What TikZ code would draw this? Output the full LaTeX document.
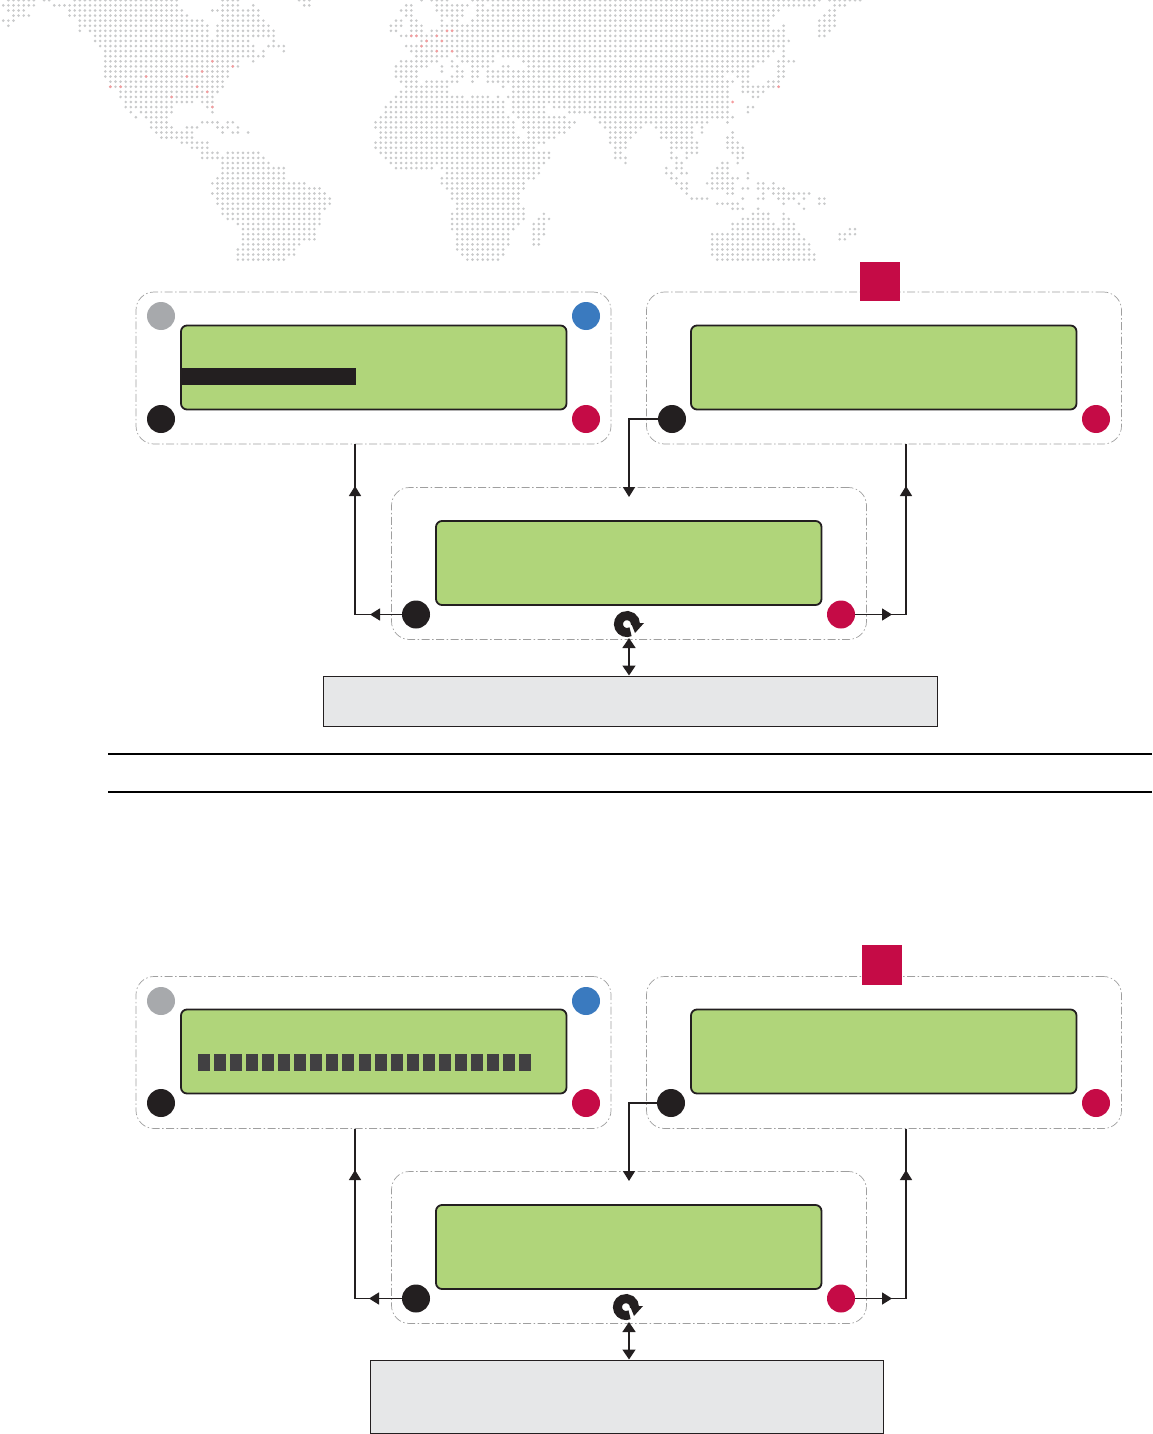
\documentclass[tikz,border=0pt]{standalone}
\usetikzlibrary{arrows.meta}
\definecolor{ink}{HTML}{231F20}
\definecolor{lcdgreen}{HTML}{B0D57A}
\definecolor{dotgrey}{HTML}{C9CACB}
\definecolor{dotred}{HTML}{F59C9E}
\definecolor{crimson}{HTML}{C50B46}
\definecolor{bluedot}{HTML}{3A7ABF}
\definecolor{greydot}{HTML}{A7A9AC}
\definecolor{panel}{HTML}{E6E7E8}
\definecolor{cell}{HTML}{414042}
\tikzset{
  groupbox/.style={draw=gray!75,line width=0.7pt,dash pattern=on 8pt off 2.5pt on 1.5pt off 2.5pt,rounded corners=18pt,minimum width=475pt,minimum height=152pt,inner sep=0pt},
  lcd/.style={draw=ink,fill=lcdgreen,line width=1.8pt,rounded corners=6pt,minimum width=385.5pt,minimum height=84pt,inner sep=0pt},
  lamp/.style={circle,minimum size=28pt,inner sep=0pt,fill=#1},
  conn/.style={draw=ink,line width=1.5pt},
  tip/.style={conn,-{Triangle[length=10pt,width=12pt,fill=ink]},shorten <=0pt},
  both/.style={conn,{Triangle[length=10pt,width=13pt,fill=ink]}-{Triangle[length=10pt,width=13pt,fill=ink]}},
  flag/.style={fill=crimson,minimum width=40pt,minimum height=39pt,inner sep=0pt},
  panelbox/.style={draw=ink,fill=panel,line width=1pt,inner sep=0pt},
  rule/.style={draw=black,line width=1.5pt},
}
\newcommand{\dotrow}[2]{\fill[dotgrey] \foreach \a/\b in {#2}{\foreach \c in {\a,...,\b}{(3.3+5.1*\c,0.3+5.085*#1) circle[radius=1.45pt]}};}
\newcommand{\reddot}[2]{\fill[dotred] (3.3+5.1*#1,0.3+5.085*#2) circle[radius=1.5pt];}
% sync icon: #1 x, #2 y
\newcommand{\syncicon}[2]{%
  \draw[ink,line width=9pt] (#1+8.5*0.42,#2+8.5*0.91) arc[start angle=65,end angle=360,radius=8.5];
  \fill[ink] (#1+4,#2-1) -- (#1+17,#2-1) -- (#1+8,#2+9) -- cycle;
}
\begin{document}
\begin{tikzpicture}[x=1pt,y=-1pt]
\useasboundingbox (0,0) rectangle (1152,1434);
% --- dotted world map
\dotrow{0}{1/6,8/9,14/34,43/46,58/60,82/82,84/87,92/160,162/168}
\dotrow{1}{0/6,10/34,43/46,49/49,59/60,79/80,85/87,88/91,93/94,96/159,163/165}
\dotrow{2}{1/4,13/35,41/50,78/80,85/87,88/90,93/152,162/163}
\dotrow{3}{2/5,13/36,43/50,79/80,86/87,88/90,93/151,161/163}
\dotrow{4}{0/2,15/39,43/51,77/78,80/81,86/86,88/89,92/150,160/163}
\dotrow{5}{1/1,15/40,42/52,76/78,80/82,86/87,88/150,153/153,160/163}
\dotrow{6}{15/15,17/40,42/53,76/77,80/82,84/87,88/153,160/162}
\dotrow{7}{18/40,42/53,78/87,88/153,160/161}
\dotrow{8}{18/48,53/53,82/87,88/154}
\dotrow{9}{19/49,52/55,79/87,88/153}
\dotrow{10}{20/49,51/51,55/55,80/87,88/151,153/153}
\dotrow{11}{20/51,81/87,89/96,98/150,153/153}
\dotrow{12}{20/46,49/49,78/85,88/88,90/96,102/149,152/155}
\dotrow{13}{20/46,77/83,86/86,88/89,92/95,98/99,103/147,152/153}
\dotrow{14}{20/44,77/81,86/86,89/90,92/93,95/146,152/153}
\dotrow{15}{20/44,77/81,88/90,92/93,95/141,144/146,152/153}
\dotrow{16}{21/43,78/81,83/87,88/89,92/92,95/143,145/146,150/152}
\dotrow{17}{21/43,79/87,98/98,100/142,145/152}
\dotrow{18}{23/42,78/87,100/142,145/149}
\dotrow{19}{23/41,77/87,88/90,92/95,97/97,99/142,147/148}
\dotrow{20}{24/37,39/41,76/87,88/98,100/142}
\dotrow{21}{24/33,40/41,75/87,88/98,100/106,108/142,146/147}
\dotrow{22}{25/25,27/33,41/41,75/87,88/98,100/106,111/142,146/146}
\dotrow{23}{26/26,28/32,74/87,88/99,101/110,116/143}
\dotrow{24}{29/32,39/42,44/45,73/87,88/100,102/112,117/138,142/142}
\dotrow{25}{29/33,36/38,42/44,46/46,73/87,88/100,102/111,118/125,128/135,137/137}
\dotrow{26}{30/37,43/43,45/46,48/48,74/87,88/100,103/110,119/124,129/135,137/137,143/143}
\dotrow{27}{31/37,74/87,88/101,103/108,119/123,129/135,142/143}
\dotrow{28}{35/40,73/87,88/106,119/122,131/136,142/144}
\dotrow{29}{37/40,73/87,88/104,120/122,131/136,142/145}
\dotrow{30}{39/42,44/50,74/87,88/107,120/121,131/131,134/136,143/145}
\dotrow{31}{39/42,43/51,75/87,88/107,120/122,131/132,134/134,144/145}
\dotrow{32}{43/52,76/87,88/106,122/122,132/133,141/142,144/144}
\dotrow{33}{43/55,77/84,86/87,88/105,130/130,132/133,140/142}
\dotrow{34}{43/55,87/87,88/105,130/131,133/134,139/142,146/146}
\dotrow{35}{42/55,86/87,88/104,131/132,139/142,143/144,146/146}
\dotrow{36}{41/59,86/87,88/102,132/134,138/141,142/143,148/149,151/151}
\dotrow{37}{42/62,87/87,88/102,133/134,139/141,142/143,145/146,148/153}
\dotrow{38}{41/63,88/101,134/134,142/143,149/149,151/158}
\dotrow{39}{42/64,88/101,135/138,145/145,148/149,152/155,157/157,160/161}
\dotrow{40}{42/64,89/101,140/144,153/153,156/156,160/161}
\dotrow{41}{43/63,89/102,143/145,148/148,157/157}
\dotrow{42}{43/62,88/102,106/106,147/150,153/153}
\dotrow{43}{44/62,88/102,105/107,145/150,153/154}
\dotrow{44}{46/62,88/101,104/106,143/151,153/155}
\dotrow{45}{47/61,88/100,104/106,143/155,166/167}
\dotrow{46}{47/61,89/99,104/106,139/156,164/167}
\dotrow{47}{47/61,89/99,104/105,139/157,164/165}
\dotrow{48}{47/58,89/99,104/105,139/158}
\dotrow{49}{46/57,89/98,139/158}
\dotrow{50}{46/57,90/98,139/159}
\dotrow{51}{46/55,91/97,140/159}
\foreach \c/\r in {41/12,45/13,39/14,28/15,36/15,38/17,21/17,23/17,40/18,33/19,41/21,87/6,80/7,81/7,85/7,83/8,86/8,82/9,85/10,88/6,88/10,152/17,143/20}{\reddot{\c}{\r}}

% --- upper diagram
\node[groupbox] (ga) at (373.5,368) {};
\node[groupbox] (gb) at (884,368) {};
\node[groupbox] (gc) at (629,563.5) {};
\node[lcd] (la) at (373.75,367.5) {};
\node[lcd] (lb) at (883.75,367.5) {};
\node[lcd] (lc) at (628.75,563) {};
\fill[ink] (181,368) rectangle (356,385);
\node[flag] (fa) at (880,281.5) {};
\node[lamp=greydot] (a1) at (161,316) {};
\node[lamp=bluedot] (a2) at (586,316) {};
\node[lamp=ink] (a3) at (161,419) {};
\node[lamp=crimson] (a4) at (586,419) {};
\node[lamp=ink] (b3) at (672,419) {};
\node[lamp=crimson] (b4) at (1096,419) {};
\node[lamp=ink] (c3) at (416,614.5) {};
\node[lamp=crimson] (c4) at (841,614.5) {};
\syncicon{627}{624}
\node[panelbox,minimum width=614pt,minimum height=50pt] (pa) at (630,701) {};
\coordinate (ja) at (355,444);
\coordinate (jb) at (906,444);
\coordinate (ca) at (355,614.5);
\coordinate (cb) at (906,614.5);
\coordinate (ta1) at (370,614.5);
\coordinate (ta2) at (355,486);
\coordinate (tb1) at (892,614.5);
\coordinate (tb2) at (906,486);
\coordinate (cd) at (629,419);
\coordinate (td) at (629,497);
\coordinate (sa) at (629,638);
\draw[conn] (c3) -- (ca) -- (ja);
\draw[conn] (c4) -- (cb) -- (jb);
\draw[tip] (c3) -- (ta1);
\draw[tip] (ca) -- (ta2);
\draw[tip] (c4) -- (tb1);
\draw[tip] (cb) -- (tb2);
\draw[tip] (b3) -- (cd) -- (td);
\draw[both] (sa) -- (sa |- pa.north);

% --- rules
\coordinate (r1a) at (108,754); \coordinate (r1b) at (1152,754);
\coordinate (r2a) at (108,792); \coordinate (r2b) at (1152,792);
\draw[rule] (r1a) -- (r1b);
\draw[rule] (r2a) -- (r2b);

% --- lower diagram
\node[groupbox] (gd) at (373.5,1052.5) {};
\node[groupbox] (ge) at (884,1052.5) {};
\node[groupbox] (gf) at (629,1247.5) {};
\node[lcd] (ld) at (373.75,1051.5) {};
\node[lcd] (le) at (883.75,1051.5) {};
\node[lcd] (lf) at (628.75,1247) {};
\foreach \i in {0,...,20}{\fill[cell] (198+16.05*\i,1054) rectangle ++(12,17);}
\node[flag,minimum height=40pt] (fb) at (882,965) {};
\node[lamp=greydot] (d1) at (161,1001) {};
\node[lamp=bluedot] (d2) at (586,1001) {};
\node[lamp=ink] (d3) at (161,1103) {};
\node[lamp=crimson] (d4) at (586,1103) {};
\node[lamp=ink] (e3) at (671,1103) {};
\node[lamp=crimson] (e4) at (1096,1103) {};
\node[lamp=ink] (f3) at (416,1298.5) {};
\node[lamp=crimson] (f4) at (841,1298.5) {};
\syncicon{626}{1307}
\node[panelbox,minimum width=513pt,minimum height=73pt] (pb) at (627,1396.5) {};
\coordinate (jd) at (355,1129);
\coordinate (je) at (906,1129);
\coordinate (cf) at (355,1298.5);
\coordinate (cg) at (906,1298.5);
\coordinate (td1) at (369,1298.5);
\coordinate (td2) at (355,1170);
\coordinate (te1) at (892,1298.5);
\coordinate (te2) at (906,1170);
\coordinate (ch) at (629,1103);
\coordinate (th) at (629,1181);
\coordinate (sb) at (629,1322);
\draw[conn] (f3) -- (cf) -- (jd);
\draw[conn] (f4) -- (cg) -- (je);
\draw[tip] (f3) -- (td1);
\draw[tip] (cf) -- (td2);
\draw[tip] (f4) -- (te1);
\draw[tip] (cg) -- (te2);
\draw[tip] (e3) -- (ch) -- (th);
\draw[both] (sb) -- (sb |- pb.north);
\end{tikzpicture}
\end{document}
